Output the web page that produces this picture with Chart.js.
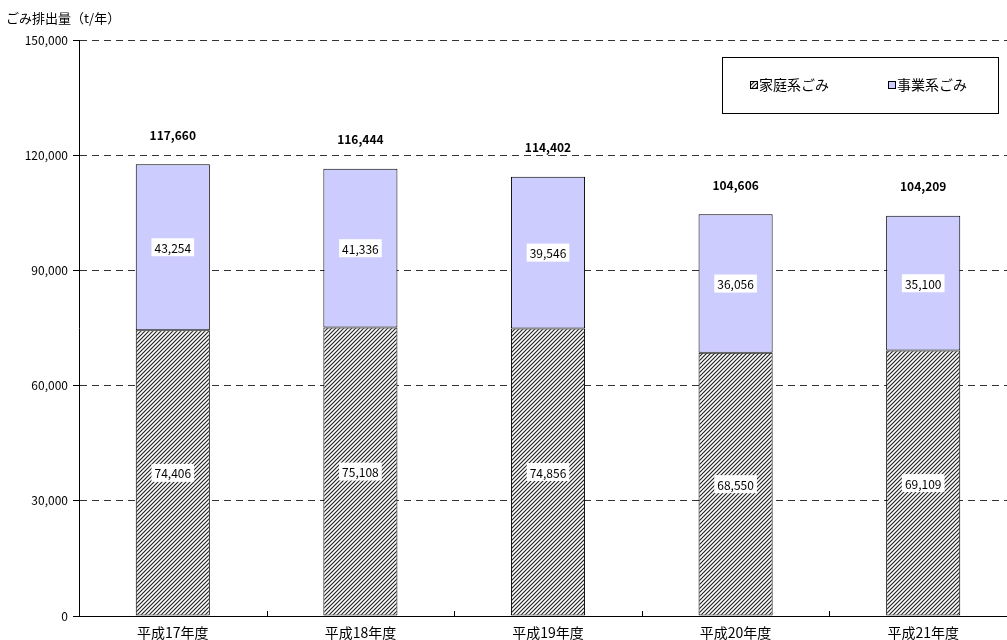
<!DOCTYPE html>
<html><head><meta charset="utf-8">
<script src="https://cdn.jsdelivr.net/npm/chart.js@4/dist/chart.umd.min.js"></script>
<style>
html,body{margin:0;padding:0;background:#fff;overflow:hidden;}
#wrap{position:relative;width:1017px;height:640px;}
</style></head>
<body><div id="wrap"><canvas id="c"></canvas></div>
<script>
const categories = ["平成17年度","平成18年度","平成19年度","平成20年度","平成21年度"];
const household = [74406, 75108, 74856, 68550, 69109];
const business = [43254, 41336, 39546, 36056, 35100];
const totals = [117660, 116444, 114402, 104606, 104209];
const yTicks = [0, 30000, 60000, 90000, 120000, 150000];
const seriesNames = ["家庭系ごみ", "事業系ごみ"];
const axisTitle = "ごみ排出量（t/年）";

const FONT = '"Noto Sans CJK JP", "Noto Sans", sans-serif';

function makeHatch(){
  const p = document.createElement('canvas');
  p.width = 4; p.height = 4;
  const g = p.getContext('2d');
  g.fillStyle = '#fff'; g.fillRect(0,0,4,4);
  g.strokeStyle = '#222'; g.lineWidth = 1.15;
  g.beginPath();
  g.moveTo(-1,5); g.lineTo(5,-1);
  g.moveTo(-1,1); g.lineTo(1,-1);
  g.moveTo(3,5); g.lineTo(5,3);
  g.stroke();
  return g.createPattern(p,'repeat');
}
const hatch = makeHatch();
const fmt = v => v.toLocaleString('en-US');

const overlay = {
  id:'overlay',
  afterDatasetsDraw(chart){
    const ctx = chart.ctx;
    const xs = chart.scales.x, ys = chart.scales.y;
    ctx.save();
    ctx.strokeStyle = '#000'; ctx.lineWidth = 1;
    for(let i=0;i<categories.length-1;i++){
      const bx = Math.round((xs.getPixelForValue(i)+xs.getPixelForValue(i+1))/2)+0.5;
      ctx.beginPath(); ctx.moveTo(bx, ys.bottom); ctx.lineTo(bx, ys.bottom-5); ctx.stroke();
    }
    ctx.font = '12px ' + FONT;
    ctx.textAlign = 'center'; ctx.textBaseline = 'middle';
    chart.data.datasets.forEach((ds, di) => {
      const meta = chart.getDatasetMeta(di);
      meta.data.forEach((el, i) => {
        const yMid = (el.y + el.base)/2;
        const t = fmt(ds.data[i]);
        const w = ctx.measureText(t).width + 6;
        ctx.fillStyle = '#fff';
        ctx.fillRect(el.x - w/2, yMid - 9, w, 18);
        ctx.fillStyle = '#000';
        ctx.fillText(t, el.x, yMid + 1);
      });
    });
    ctx.font = 'bold 12px ' + FONT;
    const top = chart.getDatasetMeta(1);
    top.data.forEach((el, i) => {
      ctx.fillStyle = '#000';
      ctx.fillText(fmt(totals[i]), el.x, ys.getPixelForValue(totals[i]) - 29);
    });
    ctx.font = '13px ' + FONT;
    ctx.textAlign = 'left';
    ctx.fillText(axisTitle, 6, 18);
    const lx = 722.5, ly = 57.5, lw = 276, lh = 56;
    ctx.fillStyle = '#fff'; ctx.fillRect(lx, ly, lw, lh);
    ctx.strokeStyle = '#000'; ctx.lineWidth = 1; ctx.strokeRect(lx, ly, lw, lh);
    ctx.font = '14px ' + FONT;
    const items = [{x:750, fill:hatch, name:seriesNames[0]},{x:888, fill:'#CCCCFF', name:seriesNames[1]}];
    items.forEach(it => {
      ctx.fillStyle = it.fill; ctx.fillRect(it.x, 81, 8, 8);
      ctx.strokeStyle = '#000'; ctx.strokeRect(it.x+0.5, 81.5, 7, 7);
      ctx.fillStyle = '#000'; ctx.textBaseline = 'middle';
      ctx.fillText(it.name, it.x + 9, 85);
    });
    ctx.restore();
  }
};

new Chart(document.getElementById('c'), {
  type:'bar',
  data:{
    labels: categories,
    datasets:[
      {label:seriesNames[0], data:household, backgroundColor:hatch, borderColor:'#000', borderWidth:1, borderSkipped:false, barPercentage:0.395, categoryPercentage:1},
      {label:seriesNames[1], data:business, backgroundColor:'#CCCCFF', borderColor:'#000', borderWidth:1, borderSkipped:false, barPercentage:0.395, categoryPercentage:1}
    ]
  },
  options:{
    responsive:true, maintainAspectRatio:false, animation:false,
    layout:{padding:{top:40, right:0, left:0, bottom:0}},
    plugins:{legend:{display:false}, tooltip:{enabled:false}},
    scales:{
      x:{
        stacked:true,
        grid:{display:false, drawTicks:false},
        border:{color:'#000', width:1},
        ticks:{color:'#000', font:{family:FONT, size:14}, padding:8, maxRotation:0},
        afterFit(a){ a.height = 24; }
      },
      y:{
        stacked:true, min:0, max:150000,
        afterBuildTicks(a){ a.ticks = yTicks.map(v=>({value:v})); },
        grid:{color:'#333', tickLength:6, tickColor:'#000', drawOnChartArea:true},
        border:{color:'#000', width:1, dash:[7,5]},
        ticks:{color:'#000', font:{family:FONT, size:12}, padding:5, callback:v=>fmt(v)},
        afterFit(a){ a.width = 79; }
      }
    }
  },
  plugins:[overlay]
});
</script></body></html>
